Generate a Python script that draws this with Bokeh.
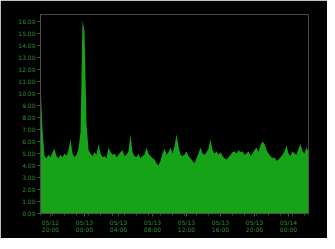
from bokeh.plotting import figure
from bokeh.models import FixedTicker, Range1d
from bokeh.embed import file_html
from bokeh.resources import INLINE

# sample index (time) and measured level
samples = list(range(135))
levels = [
    10.8, 7.0, 4.8, 4.6, 4.9, 4.7, 5.1, 5.4, 4.8, 4.6,
    4.9, 4.7, 5.0, 4.8, 5.3, 6.2, 5.0, 4.7, 4.9, 5.4,
    6.8, 16.1, 15.2, 7.5, 5.3, 5.0, 4.8, 5.1, 4.9, 5.8,
    5.0, 4.7, 4.8, 4.6, 5.5, 5.1, 4.9, 5.0, 4.7, 4.9,
    5.1, 5.3, 4.8, 4.9, 5.2, 6.6, 5.1, 4.8, 4.7, 5.0,
    4.6, 4.8, 4.9, 5.5, 5.0, 4.8, 4.6, 4.5, 4.2, 4.0,
    4.4, 5.0, 5.4, 4.9, 5.1, 5.5, 5.0, 5.6, 6.6, 5.6,
    4.9, 4.8, 4.9, 5.2, 4.8, 4.6, 4.4, 4.2, 4.6, 5.0,
    5.5, 5.0, 4.9, 5.1, 5.4, 6.2, 5.3, 5.0, 5.2, 4.9,
    5.1, 4.8, 4.6, 4.5, 4.7, 4.9, 5.1, 5.2, 5.0, 5.3,
    5.1, 5.2, 4.9, 5.0, 5.2, 4.8, 5.0, 5.3, 5.5, 5.1,
    5.7, 6.0, 5.8, 5.3, 5.0, 4.8, 4.6, 4.7, 4.4, 4.5,
    4.7, 4.9, 5.2, 5.7, 5.0, 4.8, 5.2, 5.0, 4.9, 5.4,
    5.8, 5.2, 5.0, 5.5, 5.2,
]

y_ticks = list(range(0, 17))
y_tick_labels = ["%.2f" % v for v in y_ticks]

x_ticks = [5, 22, 39, 56, 73, 90, 107, 124]
x_tick_labels = ["05/12\n20:00", "05/13\n00:00", "05/13\n04:00", "05/13\n08:00",
                 "05/13\n12:00", "05/13\n16:00", "05/13\n20:00", "05/14\n00:00"]

GREEN = "#17a317"
TEXT = "#2f8f2f"
DIM = "#4a4f4a"

p = figure(width=327, height=238, output_backend="svg", toolbar_location=None,
           x_range=Range1d(0, 134), y_range=Range1d(0, 16.6),
           min_border_left=40, min_border_right=19, min_border_top=14, min_border_bottom=25)
p.background_fill_color = "black"
p.border_fill_color = "black"
p.outline_line_color = DIM
p.outline_line_dash = "2 2"
p.grid.visible = False

p.varea(x=samples, y1=0, y2=levels, fill_color=GREEN, fill_alpha=1.0)

p.yaxis.ticker = FixedTicker(ticks=y_ticks)
p.yaxis.major_label_overrides = {t: l for t, l in zip(y_ticks, y_tick_labels)}
p.xaxis.ticker = FixedTicker(ticks=x_ticks, minor_ticks=list(range(0, 135, 6)))
p.xaxis.major_label_overrides = {t: l for t, l in zip(x_ticks, x_tick_labels)}

for ax in (p.xaxis, p.yaxis):
    ax.axis_line_color = DIM
    ax.major_tick_line_color = DIM
    ax.minor_tick_line_color = DIM
    ax.major_label_text_color = TEXT
    ax.major_label_text_font = "DejaVu Sans"
    ax.major_label_text_font_size = "6px"
    ax.major_tick_out = 3
    ax.major_tick_in = 0
    ax.minor_tick_out = 2
    ax.major_label_standoff = 2
p.yaxis.minor_tick_line_color = None
p.xaxis.major_label_text_line_height = 1.0

open("out.html", "w").write(file_html(p, INLINE))
